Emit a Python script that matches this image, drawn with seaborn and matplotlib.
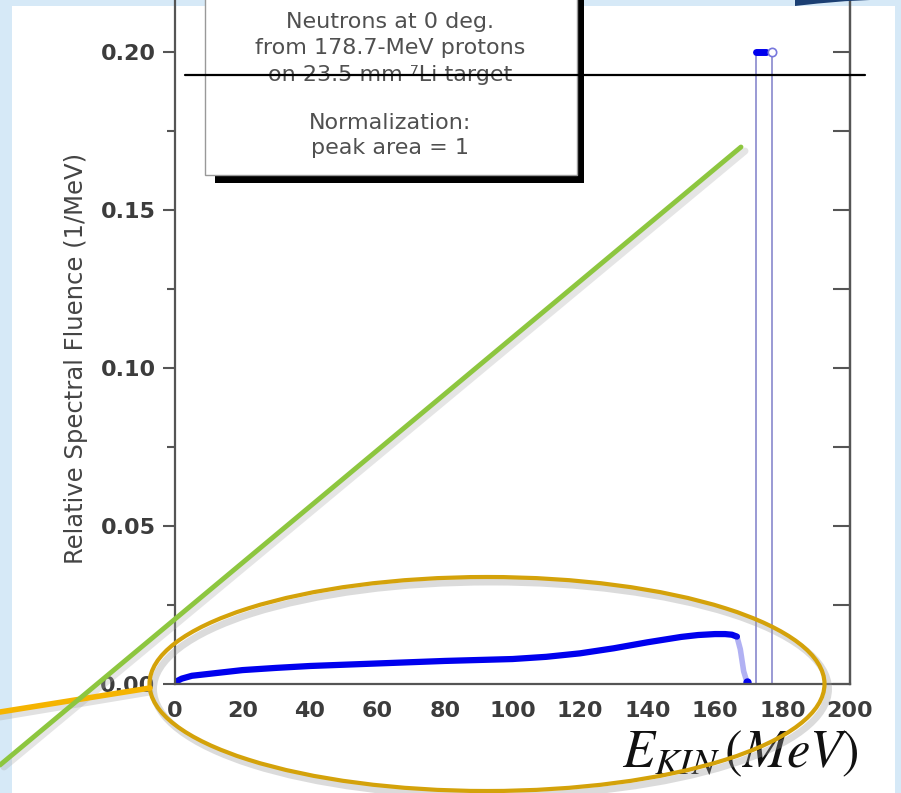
import numpy as np
import matplotlib
matplotlib.use('Agg')
import matplotlib.pyplot as plt
from matplotlib.patches import Rectangle, Ellipse, Polygon
from matplotlib.ticker import MultipleLocator
import seaborn as sns

# continuum part of the neutron spectrum
energy = [0, 2, 5, 10, 20, 30, 40, 50, 60, 70, 80, 90, 100, 110, 120,
          130, 140, 150, 155, 160, 163, 165, 166.5]
fluence = [0.0006, 0.0017, 0.0026, 0.0032, 0.0044, 0.0051, 0.0057, 0.0061,
           0.0065, 0.0069, 0.0073, 0.0076, 0.0079, 0.0086, 0.0097, 0.0113,
           0.0132, 0.0149, 0.0155, 0.0158, 0.0158, 0.0156, 0.0150]
# fall-off at the end of the continuum
drop_energy = [166.5, 167.5, 168.5, 169.5]
drop_fluence = [0.0150, 0.0110, 0.0040, 0.0005]
# peak, normalised to unit area
peak_energy = [172.0, 172.0, 177.0, 177.0]
peak_fluence = [0.0, 0.20, 0.20, 0.0]
peak_top_energy = [172.0, 175.2]
peak_top_fluence = [0.20, 0.20]

x_ticks = [0, 20, 40, 60, 80, 100, 120, 140, 160, 180, 200]
y_ticks = [0.00, 0.05, 0.10, 0.15, 0.20]
box_lines = ['Neutrons at 0 deg.', 'from 178.7-MeV protons',
             'on 23.5 mm \u2077Li target', 'Normalization:', 'peak area = 1']

sns.set_style('white')
plt.rcParams['font.family'] = ['DejaVu Sans']

W, H = 901, 793
fig = plt.figure(figsize=(W / 100, H / 100), dpi=100, facecolor='#d6e9f7')
# white slide area (behind everything)
fig.patches.append(Rectangle((12 / W, 0), (895 - 12) / W, (H - 6) / H,
                             transform=fig.transFigure, facecolor='white',
                             edgecolor='none', zorder=-5))

# main axes (top edge just above the picture)
ax = fig.add_axes([175 / W, 109 / H, 675 / W, 689 / H])
ax.patch.set_alpha(0)
ax.set_xlim(0, 200)
ax.set_ylim(0, 689 / 3160)

sns.lineplot(x=energy, y=fluence, ax=ax, color='#0000ee', lw=4.5, sort=False)
ax.plot(drop_energy, drop_fluence, color='#2222dd', lw=4, alpha=0.35)
ax.plot(drop_energy[-1:], drop_fluence[-1:], 'o', color='#0000ee', ms=5)
ax.plot(peak_energy, peak_fluence, color='#9a9ad4', lw=1.4)
ax.plot(peak_top_energy, peak_top_fluence, color='#0000ee', lw=5,
        solid_capstyle='round')
ax.plot(peak_energy[-1:], peak_fluence[1:2], 'o', mfc='white',
        mec='#7777dd', ms=6, mew=1.2)

ax.set_xticks(x_ticks)
ax.set_yticks(y_ticks)
ax.set_yticklabels([f'{v:.2f}' for v in y_ticks])
ax.xaxis.set_minor_locator(MultipleLocator(10))
ax.yaxis.set_minor_locator(MultipleLocator(0.025))
for s in ['left', 'bottom', 'right']:
    ax.spines[s].set_color('#555555')
    ax.spines[s].set_linewidth(1.6)
ax.spines['top'].set_visible(False)
ax.tick_params(which='both', direction='out', color='#555555', width=1.5,
               top=False, right=False, labelsize=16, labelcolor='#3c3c3c')
ax.tick_params(which='major', length=9, pad=5)
ax.tick_params(axis='x', which='major', pad=3)
ax.tick_params(which='minor', length=6)
for lab in ax.get_xticklabels() + ax.get_yticklabels():
    lab.set_fontweight('bold')

# inward ticks on the right side
ax2 = ax.twinx()
ax2.set_ylim(ax.get_ylim())
ax2.set_yticks(y_ticks)
ax2.yaxis.set_minor_locator(MultipleLocator(0.025))
for s in ['left', 'top', 'bottom']:
    ax2.spines[s].set_visible(False)
ax2.spines['right'].set_color('#555555')
ax2.spines['right'].set_linewidth(1.6)
ax2.tick_params(which='both', direction='in', color='#555555', width=1.5,
                labelright=False, length=12)

# overlay in pixel coordinates for the slide annotations
ov = fig.add_axes([0, 0, 1, 1])
ov.set_xlim(0, W)
ov.set_ylim(H, 0)
ov.axis('off')
ov.patch.set_alpha(0)
ov.set_zorder(5)

# legend box with shadow
ov.add_patch(Rectangle((215, -20), 369, 203, facecolor='black', edgecolor='none', zorder=2))
ov.add_patch(Rectangle((205, -20), 372, 195, facecolor='white', edgecolor='#999999', lw=1, zorder=3))
for txt, yy in zip(box_lines, [22, 48, 75, 123, 148]):
    ov.text(390, yy, txt, ha='center', va='center', fontsize=16,
            color='#505050', zorder=4)
ov.plot([185, 865], [75, 75], color='black', lw=1.6, zorder=5)

ov.text(76, 358, 'Relative Spectral Fluence (1/MeV)', rotation=90,
        ha='center', va='center', fontsize=17.5, color='#444444')
ov.text(740, 753, r'$E_{KIN}\,(MeV)$', ha='center', va='center',
        fontsize=38, color='#111111', math_fontfamily='stix', zorder=4)

# top-right swoosh
ov.add_patch(Polygon([(795, 6), (818, 3.5), (845, 1.2), (870, 0), (795, 0)],
                     closed=True, facecolor='#1b3f73', edgecolor='none', zorder=6))

# highlight ellipse, pointer lines (with soft shadows)
ov.add_patch(Ellipse((491, 689), 675, 214, fill=False, edgecolor='#999999',
                     lw=5, alpha=0.35, zorder=6))
ov.add_patch(Ellipse((487, 684), 675, 214, fill=False, edgecolor='#d4a20a',
                     lw=3, zorder=7))
ov.plot([0, 150], [717, 692], color='#aaaaaa', lw=5, alpha=0.35, zorder=6)
ov.plot([0, 150], [712, 688], color='#f5b400', lw=4, zorder=7)
ov.plot([4, 745], [767, 151], color='#aaaaaa', lw=5, alpha=0.3, zorder=6)
ov.plot([0, 741], [765, 147], color='#8dc63f', lw=3.5, zorder=8)

fig.savefig('out.png', dpi=100, facecolor=fig.get_facecolor())
